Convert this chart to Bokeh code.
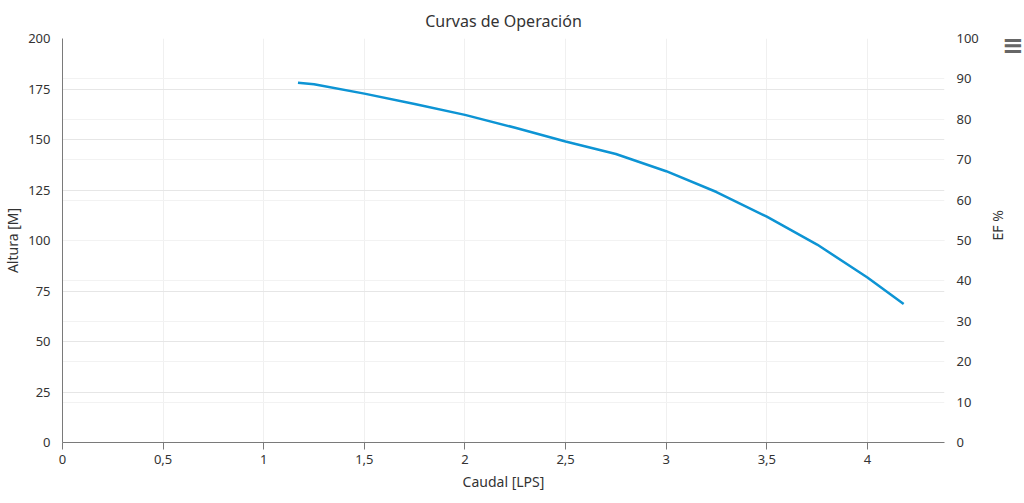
import math
from bokeh.plotting import figure
from bokeh.models import Range1d, LinearAxis, FixedTicker, Grid, Div
from bokeh.layouts import row
from bokeh.embed import file_html
from bokeh.resources import INLINE

# ---- data ----
caudal = [1.17, 1.25, 1.5, 1.75, 2.0, 2.25, 2.5, 2.75, 3.0, 3.25, 3.5, 3.75, 4.0, 4.18]
altura = [178.1, 177.4, 172.7, 167.6, 162.2, 155.8, 149.0, 142.8, 134.3, 124.0, 111.8, 98.0, 81.7, 68.6]

x_ticks = [0, 0.5, 1, 1.5, 2, 2.5, 3, 3.5, 4]
x_tick_labels = ["0", "0,5", "1", "1,5", "2", "2,5", "3", "3,5", "4"]
y_left_ticks = [0, 25, 50, 75, 100, 125, 150, 175, 200]
y_right_ticks = [0, 10, 20, 30, 40, 50, 60, 70, 80, 90, 100]

FONT = "Noto Sans"
TXT = "#333333"

p = figure(frame_width=882, frame_height=404, output_backend="svg", toolbar_location=None,
           x_range=Range1d(0, 4.383), y_range=Range1d(0, 200),
           min_border_left=55, min_border_right=63, min_border_top=30, min_border_bottom=53)
p.outline_line_color = None
p.background_fill_color = "white"

p.title.text = "Curvas de Operación"
p.title.align = "center"
p.title.text_font = FONT
p.title.text_font_size = "16px"
p.title.text_font_style = "normal"
p.title.text_color = TXT
p.title.offset = 17
p.title.standoff = 14

p.extra_y_ranges = {"ef": Range1d(0, 100)}

# grids
p.xgrid.ticker = FixedTicker(ticks=x_ticks)
p.xgrid.grid_line_color = "#f0f0f0"
p.ygrid.ticker = FixedTicker(ticks=y_left_ticks)
p.ygrid.grid_line_color = "#e6e6e6"
rgrid = Grid(dimension=1, y_range_name="ef", ticker=FixedTicker(ticks=y_right_ticks),
             grid_line_color="#f2f2f2")
p.add_layout(rgrid)

# x axis
xa = p.xaxis[0]
xa.ticker = FixedTicker(ticks=x_ticks)
xa.major_label_overrides = {t: l for t, l in zip(x_ticks, x_tick_labels)}
xa.axis_label = "Caudal [LPS]"
xa.axis_line_color = "#7a7a7a"
xa.major_tick_line_color = "#7a7a7a"
xa.major_tick_out = 7
xa.major_tick_in = 0
xa.minor_tick_line_color = None
xa.minor_tick_out = 0
xa.minor_tick_in = 0

# left axis
ya = p.yaxis[0]
ya.ticker = FixedTicker(ticks=y_left_ticks)
ya.axis_label = "Altura [M]"
ya.axis_line_color = "#7a7a7a"
ya.major_tick_line_color = None
ya.minor_tick_line_color = None

# right axis
ra = LinearAxis(y_range_name="ef", ticker=FixedTicker(ticks=y_right_ticks), axis_label="EF %")
ra.axis_line_color = None
ra.major_tick_line_color = None
ra.minor_tick_line_color = None
p.add_layout(ra, "right")
try:
    ra.axis_label_orientation = math.pi / 2
except Exception:
    pass

for ax in [ya, ra]:
    ax.major_tick_out = 0
    ax.major_tick_in = 0
    ax.minor_tick_out = 0
    ax.minor_tick_in = 0

for ax in [xa, ya, ra]:
    ax.major_label_text_font = FONT
    ax.major_label_text_font_size = "13px"
    ax.major_label_text_color = TXT
    ax.axis_label_text_font = FONT
    ax.axis_label_text_font_size = "14px"
    ax.axis_label_text_font_style = "normal"
    ax.axis_label_text_color = TXT

xa.major_label_standoff = 5
xa.axis_label_standoff = 5
ya.major_label_standoff = 12
ya.axis_label_standoff = 3
ra.major_label_standoff = 12
ra.axis_label_standoff = 16

p.line(caudal, altura, line_color="#0d94d4", line_width=2.5)

# export-menu icon
menu = Div(text="≡", width=8, height=60,
           styles={"font-size": "26px", "line-height": "26px", "color": "#666666",
                   "font-weight": "bold", "padding-top": "27px", "white-space": "nowrap",
                   "overflow": "visible", "position": "relative", "left": "-22px",
                   "font-family": "DejaVu Sans"})

layout = row(p, menu)
open("out.html", "w").write(file_html(layout, INLINE))
